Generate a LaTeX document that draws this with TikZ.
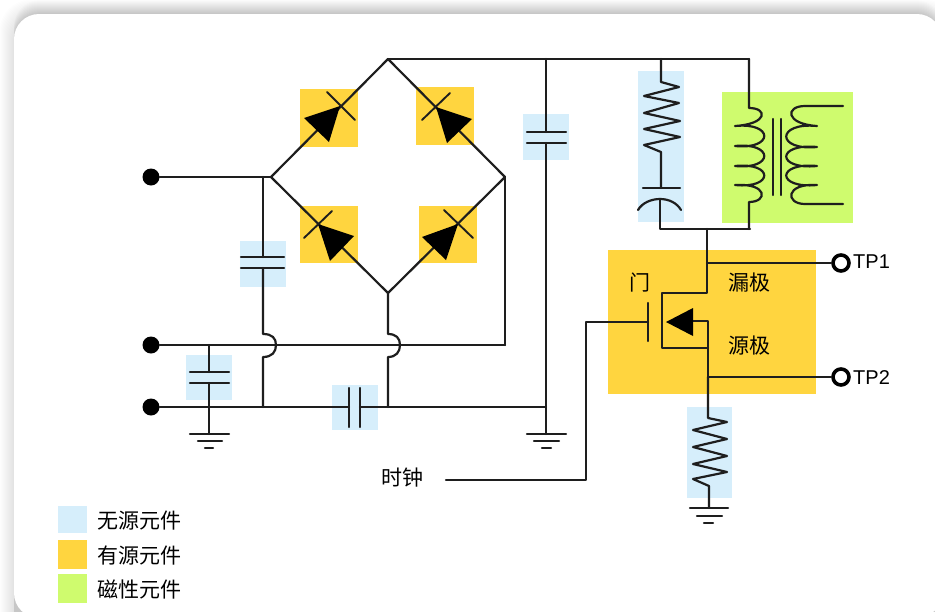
\documentclass[tikz,border=0pt]{standalone}
\usepackage{fontspec}
\newfontfamily\cjk{Noto Sans CJK SC}
\newfontfamily\lat{Liberation Sans}
\definecolor{passive}{HTML}{D6EEFB}
\definecolor{active}{HTML}{FFD53F}
\definecolor{magnetic}{HTML}{CFFB6E}
\definecolor{wirec}{HTML}{1E1E1E}
\tikzset{
  wire/.style={draw=wirec,line width=2.2pt,line join=round,line cap=round},
  thinwire/.style={wire,line width=1.9pt},
  fillbox/.style={inner sep=0pt,outer sep=0pt,draw=none},
  terminal/.style={circle,fill=black,minimum size=17pt,inner sep=0pt},
  probe/.style={circle,draw=black,line width=3.6pt,fill=white,minimum size=16pt,inner sep=0pt},
  cjklabel/.style={font=\cjk\fontsize{21}{24}\selectfont,text=black,inner sep=0pt},
  tplabel/.style={font=\lat\fontsize{20}{23}\selectfont,text=black,inner sep=0pt,anchor=west},
  head/.style={fill=black,draw=none}
}
\newcommand{\bx}[6]{\node[fillbox,fill=#6,minimum width=#3 pt-#1 pt,minimum height=#4 pt-#2 pt,anchor=north west] (#5) at (#1,#2) {};}
\begin{document}
\begin{tikzpicture}[x=1pt,y=-1pt]
\useasboundingbox (0,0) rectangle (935,611);
\clip (0,0) rectangle (935,611);
% page and card shadow
\fill[white] (0,0) rectangle (935,611);
\foreach \i in {1,...,14}{
  \fill[black,opacity=.007,rounded corners=30pt] ({14-\i},{14-\i}) rectangle ({942+\i},640);
  \fill[black,opacity=.007,rounded corners=26pt] (14,{14-\i}) rectangle (942,640);
}
\fill[white,rounded corners=25pt] (14,14) rectangle (942,618);
% coloured boxes
\bx{300}{89}{358}{147}{dTL}{active}
\bx{416}{87}{474}{145}{dTR}{active}
\bx{300}{206}{358}{263}{dBL}{active}
\bx{419}{206}{477}{263}{dBR}{active}
\bx{608}{250}{816}{394}{fetbox}{active}
\bx{722}{92}{853}{223}{xfbox}{magnetic}
\bx{240}{241}{286}{287}{c1box}{passive}
\bx{186}{355}{232}{400}{c2box}{passive}
\bx{332}{385}{378}{430}{c3box}{passive}
\bx{523}{114}{569}{160}{c4box}{passive}
\bx{638}{71}{684}{222}{rcbox}{passive}
\bx{687}{407}{732}{498}{r2box}{passive}
\bx{58}{506}{87}{533}{lg1}{passive}
\bx{58}{540}{87}{569}{lg2}{active}
\bx{58}{574}{87}{603}{lg3}{magnetic}
% named points
\coordinate (top) at (388,59);
\coordinate (left) at (271,177);
\coordinate (right) at (505,177);
\coordinate (bottom) at (388,293);
\node[terminal] (t1) at (151,177) {};
\node[terminal] (t2) at (151,345) {};
\node[terminal] (t3) at (151,407) {};
\node[probe] (tp1) at (841,263) {};
\node[probe] (tp2) at (841,377) {};
\coordinate (rail) at (749,59);
\coordinate (j1) at (263,177);
\coordinate (j2) at (263,407);
\coordinate (j3) at (388,407);
\coordinate (j4) at (546,407);
\coordinate (j5) at (546,59);
\coordinate (j6) at (209,345);
\coordinate (j7) at (505,345);
\coordinate (j8) at (661,59);
\coordinate (j9) at (661,229);
\coordinate (j10) at (750,229);
\coordinate (dr) at (707,229);
\coordinate (dr1) at (707,263);
\coordinate (dr2) at (707,293);
\coordinate (sr1) at (708,348);
\coordinate (sr2) at (708,377);
\coordinate (clk) at (446,480);
% bridge
\draw[wire] (top) -- (rail);
\draw[wire] (left) -- (top) -- (right) -- (bottom) -- (left);
\draw[wire] (t1) -- (left);
\draw[wire] (right) -- (j7);
% diodes
\fill[head] (340,106) -- (304,118) -- (329,142) -- cycle;
\draw[thinwire] (327,92) -- (355,120);
\fill[head] (436,107) -- (472,119) -- (447,143) -- cycle;
\draw[thinwire] (422,120) -- (450,93);
\fill[head] (318,224) -- (354,236) -- (330,261) -- cycle;
\draw[thinwire] (304,238) -- (332,211);
\fill[head] (458,224) -- (422,237) -- (446,260) -- cycle;
\draw[thinwire] (444,210) -- (473,238);
% mid and lower rails
\draw[wire] (t2) -- (j7);
\draw[wire] (t3) -- (349,407);
\draw[wire] (360,407) -- (j4);
\draw[wire] (349,388) -- (349,427);
\draw[wire] (360,388) -- (360,427);
% c1 and hop
\draw[wire] (j1) -- (263,257);
\draw[wire] (241,257) -- (284,257);
\draw[wire] (241,268) -- (284,268);
\draw[wire] (263,268) -- (263,334) .. controls (272,334) and (276,338) .. (276,345) .. controls (276,352) and (272,357) .. (263,357) -- (j2);
% bottom of bridge and hop
\draw[wire] (bottom) -- (388,334) .. controls (396,334) and (400,338) .. (400,345) .. controls (400,352) and (396,357) .. (388,357) -- (j3);
% c2 and ground
\draw[wire] (j6) -- (209,372);
\draw[wire] (190,372) -- (229,372);
\draw[wire] (190,383) -- (229,383);
\draw[wire] (209,383) -- (209,434);
\draw[wire] (190,434) -- (229,434);
\draw[wire] (198,441) -- (222,441);
\draw[wire] (205,448) -- (213,448);
% c4 and ground
\draw[wire] (j5) -- (546,132);
\draw[wire] (527,132) -- (566,132);
\draw[wire] (527,143) -- (566,143);
\draw[wire] (546,143) -- (j4) -- (546,434);
\draw[wire] (527,434) -- (566,434);
\draw[wire] (534,441) -- (559,441);
\draw[wire] (542,448) -- (551,448);
% RC branch
\draw[wire] (j8) -- (661,82) -- (679,87) -- (644,96) -- (679,103) -- (644,113) -- (680,121) -- (644,129) -- (680,137) -- (644,145) -- (661,152) -- (661,188);
\draw[wire] (643,188) -- (680,188);
\draw[wire] (638,210) .. controls (642,203) and (651,199) .. (660,199) .. controls (669,199) and (677,203) .. (681,210);
\draw[wire] (660,199) -- (660,229) -- (j10);
% transformer
\draw[wire] (rail) -- (749,108) .. controls (768,108) and (768,124) .. (735,126)
  .. controls (774,122) and (774,150) .. (735,146)
  .. controls (774,142) and (774,170) .. (735,166)
  .. controls (774,162) and (774,189) .. (735,185)
  .. controls (768,183) and (768,202) .. (749,202) -- (749,229);
\draw[wire] (773,119) -- (773,195);
\draw[wire] (781,119) -- (781,195);
\draw[wire] (843,106) -- (805,106) .. controls (785,106) and (785,124) .. (817,126)
  .. controls (776,122) and (776,151) .. (817,147)
  .. controls (776,143) and (776,170) .. (817,166)
  .. controls (776,162) and (776,189) .. (817,185)
  .. controls (785,183) and (785,204) .. (805,204) -- (843,204);
% MOSFET
\draw[wire] (dr) -- (dr2) -- (662,293) -- (662,348) -- (sr1);
\draw[wire] (dr1) -- (tp1);
\draw[wire] (693,321) -- (708,321) -- (sr1) -- (sr2);
\draw[wire] (sr2) -- (tp2);
\fill[head] (666,322) -- (693,308) -- (693,336) -- cycle;
\draw[wire] (648,303) -- (648,341);
\draw[wire] (648,322) -- (586,322) -- (586,480) -- (clk);
% source resistor and ground
\draw[wire] (sr2) -- (708,418) -- (727,422) -- (693,430) -- (727,439) -- (693,447) -- (727,456) -- (693,464) -- (727,472) -- (693,479) -- (709,486) -- (709,508);
\draw[wire] (690,508) -- (728,508);
\draw[wire] (697,516) -- (722,516);
\draw[wire] (704,523) -- (713,523);
% labels
\node[cjklabel] (lgate) at (640,283) {门};
\node[cjklabel] (ldrain) at (749,283) {漏极};
\node[cjklabel] (lsource) at (749,346) {源极};
\node[cjklabel] (lclk) at (402,478) {时钟};
\node[tplabel] (ltp1) at (853,262) {TP1};
\node[tplabel] (ltp2) at (853,378) {TP2};
\node[cjklabel,anchor=west] (lt1) at (97,521) {无源元件};
\node[cjklabel,anchor=west] (lt2) at (97,556) {有源元件};
\node[cjklabel,anchor=west] (lt3) at (97,590) {磁性元件};
\end{tikzpicture}
\end{document}
